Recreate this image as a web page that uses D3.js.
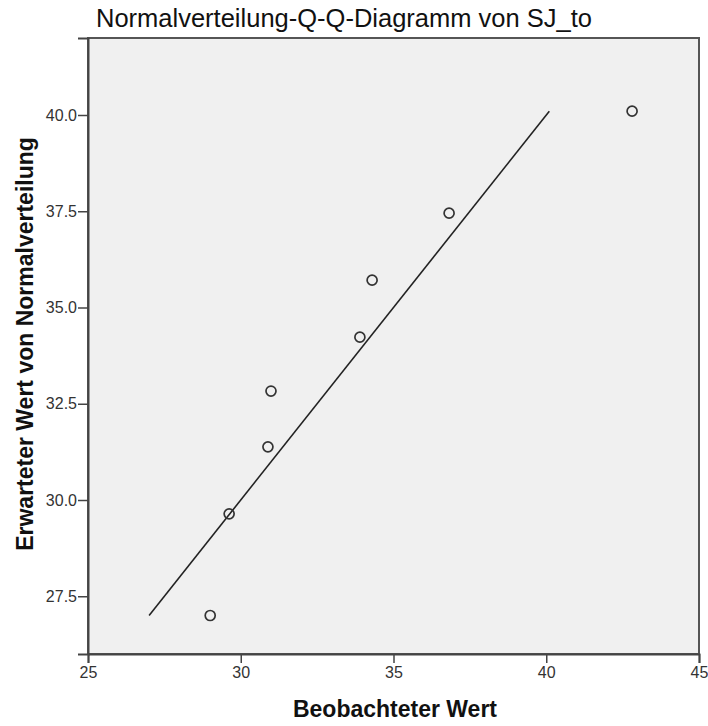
<!DOCTYPE html>
<html>
<head>
<meta charset="utf-8">
<script src="https://cdn.jsdelivr.net/npm/d3@7"></script>
<style>
  body { margin: 0; background: #fff; }
  svg text { font-family: "Liberation Sans", Arial, sans-serif; }
</style>
</head>
<body>
<div class="visHolder"></div>
<script>
const width = 708;
const height = 726;

// observed vs expected normal values
const observed = [29.0, 29.62, 30.89, 30.99, 33.9, 34.3, 36.82, 42.81];
const expected = [27.0, 29.64, 31.38, 32.83, 34.23, 35.71, 37.45, 40.1];
const xTicks = [25, 30, 35, 40, 45];
const yTicks = [27.5, 30.0, 32.5, 35.0, 37.5, 40.0];

const plotLeft = 88, plotRight = 699, plotTop = 38, plotBottom = 654;

const svg = d3.select('.visHolder')
  .append('svg')
  .attr('width', width)
  .attr('height', height);

const xScale = d3.scaleLinear().domain([25, 45]).range([plotLeft, plotRight]);
const yScale = d3.scaleLinear().domain([26, 42]).range([plotBottom, plotTop]);

svg.append('rect')
  .attr('x', plotLeft)
  .attr('y', plotTop)
  .attr('width', plotRight - plotLeft)
  .attr('height', plotBottom - plotTop)
  .style('fill', '#f0f0f0')
  .style('stroke', '#555')
  .style('stroke-width', 2);

const xAxis = d3.axisBottom(xScale).tickValues(xTicks).tickSize(9).tickPadding(4).tickFormat(d3.format('d'));
const yAxis = d3.axisLeft(yScale).tickValues(yTicks).tickSize(10).tickPadding(1).tickFormat(d3.format('.1f'));

svg.append('g')
  .attr('id', 'x-axis')
  .attr('transform', `translate(0, ${plotBottom})`)
  .call(xAxis);

svg.append('g')
  .attr('id', 'y-axis')
  .attr('transform', `translate(${plotLeft}, 0)`)
  .call(yAxis);

svg.selectAll('.domain').style('stroke', '#444').style('stroke-width', 2);
svg.selectAll('.tick line').style('stroke', '#444').style('stroke-width', 1.5);
svg.selectAll('.tick text')
  .style('font-size', '16px')
  .style('fill', '#333');

// reference line y = x from min to max expected
const lo = d3.min(expected), hi = d3.max(expected);
svg.append('line')
  .attr('x1', xScale(lo))
  .attr('y1', yScale(lo))
  .attr('x2', xScale(hi))
  .attr('y2', yScale(hi))
  .style('stroke', '#222')
  .style('stroke-width', 1.6);

svg.selectAll('circle')
  .data(observed)
  .enter()
  .append('circle')
  .attr('cx', d => xScale(d))
  .attr('cy', (d, i) => yScale(expected[i]))
  .attr('r', 5)
  .style('fill', 'none')
  .style('stroke', '#333')
  .style('stroke-width', 1.7);

svg.append('text')
  .attr('x', 96)
  .attr('y', 27)
  .style('font-size', '25.5px')
  .style('fill', '#111')
  .text('Normalverteilung-Q-Q-Diagramm von SJ_to');

svg.append('text')
  .attr('x', 395)
  .attr('y', 717)
  .attr('text-anchor', 'middle')
  .style('font-size', '23px')
  .style('font-weight', 'bold')
  .style('fill', '#111')
  .text('Beobachteter Wert');

svg.append('text')
  .attr('transform', `translate(33, 344) rotate(-90)`)
  .attr('text-anchor', 'middle')
  .style('font-size', '23px')
  .style('font-weight', 'bold')
  .style('fill', '#111')
  .text('Erwarteter Wert von Normalverteilung');
</script>
</body>
</html>
